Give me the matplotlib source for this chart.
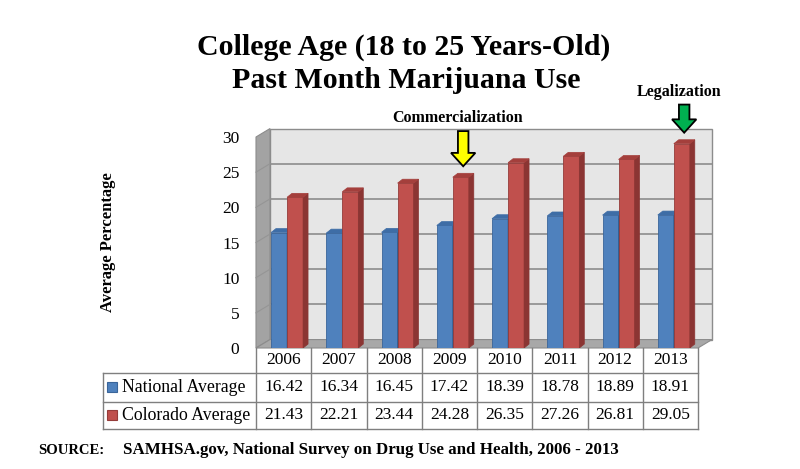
import matplotlib
matplotlib.use("Agg")
import matplotlib.pyplot as plt
from matplotlib.patches import Polygon, Rectangle, FancyArrow

years = ["2006", "2007", "2008", "2009", "2010", "2011", "2012", "2013"]
national = [16.42, 16.34, 16.45, 17.42, 18.39, 18.78, 18.89, 18.91]
colorado = [21.43, 22.21, 23.44, 24.28, 26.35, 27.26, 26.81, 29.05]
series_names = ["National Average", "Colorado Average"]
y_ticks = [0, 5, 10, 15, 20, 25, 30]
events = [("Commercialization", "2009"), ("Legalization", "2013")]

plt.rcParams['font.family'] = ['Liberation Serif', 'DejaVu Serif']

front_col = ["#4F81BD", "#C0504D"]
side_col = ["#2F5A8C", "#8B3533"]
top_col = ["#3E6DA6", "#A43F3C"]
edge_col = ["#3A659A", "#953C3A"]
arrow_col = {"Commercialization": "#FFFF00", "Legalization": "#00B050"}
arrow_len = {"Commercialization": 5.0, "Legalization": 4.0}

fig = plt.figure(figsize=(8, 4.69), dpi=100)
ax = fig.add_axes([256 / 800, 1 - 348 / 469, 442 / 800, 211 / 469])
ax.set_xlim(-0.5, len(years) - 0.5)
ax.set_ylim(0, 30)
for sp in ax.spines.values():
    sp.set_visible(False)
ax.set_xticks([])
ax.set_yticks(y_ticks)
ax.tick_params(axis='y', length=0, pad=12, labelsize=12.5)

# fake 3d box
DX, DY = 0.253, 1.2
x0, x1 = -0.5, len(years) - 0.5
ax.add_patch(Polygon([(x0 + DX, DY), (x1 + DX, DY), (x1 + DX, 30 + DY), (x0 + DX, 30 + DY)],
                     closed=True, fc="#E6E6E6", ec="#8C8C8C", lw=1, clip_on=False, zorder=0))
ax.add_patch(Polygon([(x0, 0), (x0 + DX, DY), (x0 + DX, 30 + DY), (x0, 30)],
                     closed=True, fc="#A3A3A3", ec="#8C8C8C", lw=0.8, clip_on=False, zorder=1))
ax.add_patch(Polygon([(x0, 0), (x1, 0), (x1 + DX, DY), (x0 + DX, DY)],
                     closed=True, fc="#A8A8A8", ec="#8C8C8C", lw=0.8, clip_on=False, zorder=1))
for t in y_ticks[1:-1]:
    ax.plot([x0 + DX, x1 + DX], [t + DY, t + DY], color="#8C8C8C", lw=1.2, zorder=0.5, clip_on=False)
    ax.plot([x0, x0 + DX], [t, t + DY], color="#959595", lw=0.8, zorder=1.5, clip_on=False)

# bars
bw, bdx, bdy = 0.29, 0.09, 0.56
for s, vals in enumerate([national, colorado]):
    for i, v in enumerate(vals):
        left = i - 0.228 + s * bw
        ax.bar(left, v, bw, align='edge', color=front_col[s], edgecolor=edge_col[s], lw=0.6, zorder=3 + s)
        ax.add_patch(Polygon([(left + bw, 0), (left + bw + bdx, bdy), (left + bw + bdx, v + bdy), (left + bw, v)],
                             closed=True, fc=side_col[s], ec=side_col[s], lw=0.5, zorder=3 + s))
        ax.add_patch(Polygon([(left, v), (left + bw, v), (left + bw + bdx, v + bdy), (left + bdx, v + bdy)],
                             closed=True, fc=top_col[s], ec=top_col[s], lw=0.5, zorder=3 + s))

# event arrows
for name, yr in events:
    i = years.index(yr)
    v = colorado[i]
    ax_x = i + 0.25
    tip = v + bdy + 1.0
    tail = tip + arrow_len[name]
    ax.add_patch(FancyArrow(ax_x, tail, 0, tip - tail, width=0.19, head_width=0.44, head_length=1.9,
                            length_includes_head=True, fc=arrow_col[name], ec="black", lw=1.3,
                            clip_on=False, zorder=6))
    ax.text(ax_x - 0.1, tail + 1.8, name, ha='center', va='center', fontsize=11.5,
            fontweight='bold', clip_on=False)

# data table
r0, r1, r2, r3 = 0, -3.55, -7.61, -11.52
lab_left = -3.27
lc = "#7F7F7F"
for k in range(len(years) + 1):
    ax.plot([x0 + k, x0 + k], [r0, r3], color=lc, lw=1, clip_on=False, zorder=2)
ax.plot([lab_left, lab_left], [r1, r3], color=lc, lw=1, clip_on=False, zorder=2)
for yy in [r1, r2, r3]:
    ax.plot([lab_left, x1], [yy, yy], color=lc, lw=1, clip_on=False, zorder=2)

for i, yr in enumerate(years):
    ax.text(i, (r0 + r1) / 2, yr, ha='center', va='center', fontsize=12.5, clip_on=False)
for s, (vals, (ya, yb)) in enumerate(zip([national, colorado], [(r1, r2), (r2, r3)])):
    ym = (ya + yb) / 2
    for i, v in enumerate(vals):
        ax.text(i, ym, f"{v:.2f}", ha='center', va='center', fontsize=12.5, clip_on=False)
    ax.add_patch(Rectangle((-3.2, ym - 0.71), 0.18, 1.42, fc=front_col[s], ec=edge_col[s],
                           lw=0.8, clip_on=False, zorder=3))
    ax.text(-2.92, ym, series_names[s], ha='left', va='center', fontsize=12.8, clip_on=False)

fig.text(108 / 800, 1 - 242 / 469, "Average Percentage", rotation=90, ha='center', va='center',
         fontsize=12, fontweight='bold')
fig.text(404 / 800, 1 - 47 / 469, "College Age (18 to 25 Years-Old)", ha='center', va='center',
         fontsize=21.5, fontweight='bold')
fig.text(406 / 800, 1 - 80 / 469, "Past Month Marijuana Use", ha='center', va='center',
         fontsize=21.5, fontweight='bold')
fig.text(38 / 800, 1 - 450 / 469, "SOURCE:", ha='left', va='center', fontsize=10.5, fontweight='bold')
fig.text(123 / 800, 1 - 450 / 469, "SAMHSA.gov, National Survey on Drug Use and Health, 2006 - 2013",
         ha='left', va='center', fontsize=12.2, fontweight='bold')

fig.savefig("out.png", dpi=100)
